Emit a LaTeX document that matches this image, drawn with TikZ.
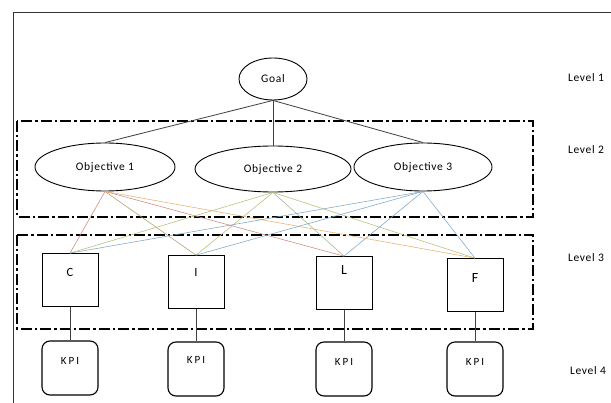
\documentclass[tikz,border=0pt]{standalone}
\usepackage{fontspec}
\setmainfont{Carlito}[LetterSpace=6]
\usetikzlibrary{shapes.geometric}
\definecolor{lred}{HTML}{D08880}
\definecolor{lbrown}{HTML}{B0A070}
\definecolor{lorange}{HTML}{E8B070}
\definecolor{lolive}{HTML}{B8C070}
\definecolor{lgreen}{HTML}{A0B890}
\definecolor{lblue}{HTML}{7FA8C8}
\tikzset{
  ell/.style={ellipse, draw, line width=0.9pt, inner sep=0pt, font=\fontsize{11.5}{13}\selectfont},
  letterbox/.style={rectangle, draw, line width=0.7pt, minimum width=56pt, minimum height=53pt, inner sep=0pt},
  kpibox/.style={rectangle, draw, rounded corners=8pt, line width=1.1pt, minimum width=56pt, minimum height=54pt, inner sep=0pt},
  kpitext/.style={font=\fontsize{11}{13}\selectfont\addfontfeatures{LetterSpace=18}},
  levtext/.style={font=\fontsize{11.5}{13}\selectfont},
  levelframe/.style={line width=1.8pt, dash pattern=on 11pt off 3pt on 2.5pt off 3pt},
  link/.style={line width=0.8pt, draw=black!75},
  thin/.style={line width=0.55pt}
}
\begin{document}
\begin{tikzpicture}[x=1pt,y=-1pt]
\useasboundingbox (0,0) rectangle (611,403);
\fill[white] (0,0) rectangle (611,403);
% outer frame (cropped at right and bottom)
\draw[line width=0.9pt, black!80] (13,420) -- (13,12) -- (620,12);
% level frames
\draw[levelframe] (17,121) rectangle (533,217);
\draw[levelframe] (17,235) rectangle (533,329);
% nodes
\node[ell, minimum width=68pt, minimum height=42pt] (goal) at (273,79) {Goal};
\node[ell, minimum width=140pt, minimum height=48pt] (o1) at (105,167) {Objective 1};
\node[ell, minimum width=156pt, minimum height=46pt] (o2) at (273,169) {Objective 2};
\node[ell, minimum width=138pt, minimum height=48pt] (o3) at (423,167) {Objective 3};
\node[letterbox] (c) at (70,280) {};
\node[letterbox] (i) at (196,282) {};
\node[letterbox] (l) at (344,283) {};
\node[letterbox] (f) at (475,285) {};
\node[font=\fontsize{12.5}{14}\selectfont] (ct) at (70,272) {C};
\node[font=\fontsize{12.5}{14}\selectfont] (it) at (196,272) {I};
\node[font=\fontsize{14}{16}\selectfont] (lt) at (344,270) {L};
\node[font=\fontsize{14}{16}\selectfont] (ft) at (475,278) {F};
\node[kpibox] (k1) at (70,368) {};
\node[kpibox] (k2) at (196,369) {};
\node[kpibox] (k3) at (344,369) {};
\node[kpibox] (k4) at (475,369) {};
\node[kpitext] (k1t) at (70,361) {KPI};
\node[kpitext] (k2t) at (196,360) {KPI};
\node[kpitext] (k3t) at (344,362) {KPI};
\node[kpitext] (k4t) at (475,362) {KPI};
\node[levtext] (lv1) at (586,78) {Level 1};
\node[levtext] (lv2) at (586,150) {Level 2};
\node[levtext] (lv3) at (586,258) {Level 3};
\node[levtext] (lv4) at (588,371) {Level 4};
% goal links
\draw[link] (goal.south) -- (o1.north);
\draw[link] (goal.south) -- (o2.north);
\draw[link] (goal.south) -- (o3.north);
% objective 1 links
\draw[thin, lred] (o1.south) -- (c.north);
\draw[thin, lbrown] (o1.south) -- (i.north);
\draw[thin, lred] (o1.south) -- (l.north);
\draw[thin, lorange] (o1.south) -- (f.north);
% objective 2 links
\draw[thin, lolive] (o2.south) -- (c.north);
\draw[thin, lolive] (o2.south) -- (i.north);
\draw[thin, lgreen] (o2.south) -- (l.north);
\draw[thin, lolive] (o2.south) -- (f.north);
% objective 3 links
\draw[thin, lblue] (o3.south) -- (c.north);
\draw[thin, lblue] (o3.south) -- (i.north);
\draw[thin, lblue] (o3.south) -- (l.north);
\draw[thin, lblue] (o3.south) -- (f.north);
% box to KPI
\draw[link] (c.south) -- (k1.north);
\draw[link] (i.south) -- (k2.north);
\draw[link] (l.south) -- (k3.north);
\draw[link] (f.south) -- (k4.north);
\end{tikzpicture}
\end{document}
